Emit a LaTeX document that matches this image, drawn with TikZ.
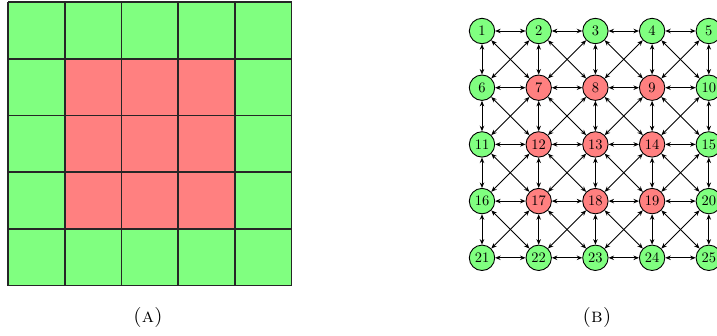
\documentclass[tikz,border=0pt]{standalone}
\usetikzlibrary{arrows.meta}
\definecolor{cellgreen}{RGB}{128,255,128}
\definecolor{cellred}{RGB}{255,128,128}
\begin{document}
\begin{tikzpicture}[x=1pt,y=-1pt,
  gridline/.style={draw=black!85,line width=1.8pt},
  vertex/.style={circle,draw=black,line width=0.9pt,minimum size=25.4pt,inner sep=0pt},
  link/.style={{Stealth[length=5.5pt,width=4.5pt]}-{Stealth[length=5.5pt,width=4.5pt]},line width=0.9pt,black},
  sublabel/.style={inner sep=0pt}]
\useasboundingbox (0,0) rectangle (717,335);
% (a) 5x5 board: outer ring green, inner 3x3 red
\def\cs{56.7}
\foreach \i in {0,...,4}{
  \foreach \j in {0,...,4}{
    \pgfmathtruncatemacro{\inner}{(\i>0)&&(\i<4)&&(\j>0)&&(\j<4)}
    \ifnum\inner=1 \def\fc{cellred}\else\def\fc{cellgreen}\fi
    \path[fill=\fc] (8+\j*\cs,2+\i*\cs) rectangle ++(\cs,\cs);
  }
}
\foreach \k in {0,...,5}{
  \draw[gridline] (8+\k*\cs,2) -- (8+\k*\cs,2+5*\cs);
  \draw[gridline] (8,2+\k*\cs) -- (8+5*\cs,2+\k*\cs);
}
\node[sublabel] (capA) at (148,317) {\scalebox{2.0}{\textsc{(a)}}};
% (b) king-move graph on the same board
\foreach \i in {0,...,4}{
  \foreach \j in {0,...,4}{
    \pgfmathtruncatemacro{\n}{5*\i+\j+1}
    \pgfmathtruncatemacro{\inner}{(\i>0)&&(\i<4)&&(\j>0)&&(\j<4)}
    \ifnum\inner=1 \def\fc{cellred}\else\def\fc{cellgreen}\fi
    \node[vertex,fill=\fc] (v\n) at (482+\j*\cs,31+\i*\cs) {\scalebox{1.45}{\n}};
  }
}
\foreach \i in {0,...,4}{
  \foreach \j in {0,...,4}{
    \pgfmathtruncatemacro{\n}{5*\i+\j+1}
    \ifnum\j<4
      \pgfmathtruncatemacro{\r}{\n+1}
      \draw[link] (v\n) -- (v\r);
    \fi
    \ifnum\i<4
      \pgfmathtruncatemacro{\d}{\n+5}
      \draw[link] (v\n) -- (v\d);
      \ifnum\j<4
        \pgfmathtruncatemacro{\dr}{\n+6}
        \draw[link] (v\n) -- (v\dr);
      \fi
      \ifnum\j>0
        \pgfmathtruncatemacro{\dl}{\n+4}
        \draw[link] (v\n) -- (v\dl);
      \fi
    \fi
  }
}
\node[sublabel] (capB) at (597,317) {\scalebox{2.0}{\textsc{(b)}}};
\end{tikzpicture}
\end{document}
